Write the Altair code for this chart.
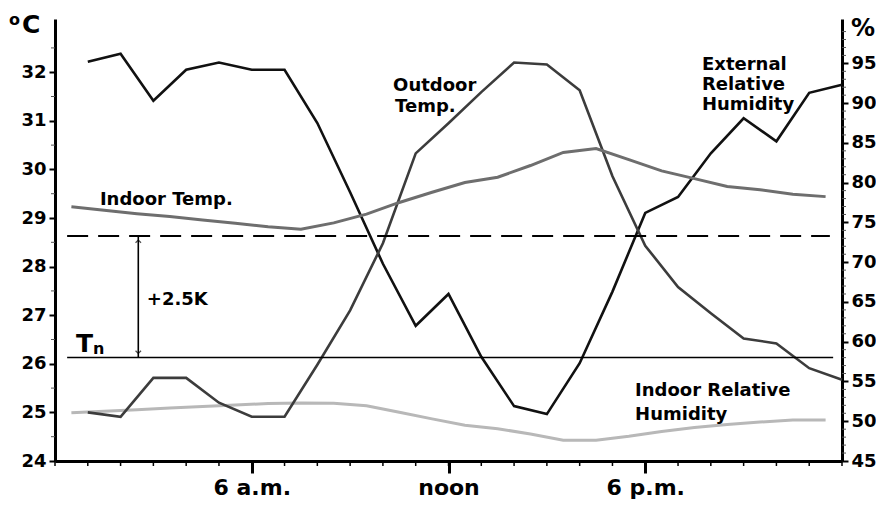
import altair as alt
import pandas as pd

# ---------------- data ----------------
hours_outdoor = list(range(1, 25))
outdoor_temp = [25.0, 24.91, 25.71, 25.71, 25.2, 24.91, 24.91, 25.98, 27.1, 28.48,
                30.33, 30.95, 31.59, 32.2, 32.16, 31.63, 29.86, 28.43, 27.58, 27.04,
                26.52, 26.42, 25.91, 25.67]
external_rh = [95.2, 96.2, 90.3, 94.2, 95.1, 94.2, 94.2, 87.5, 78.8, 69.8,
               62.0, 66.0, 58.1, 51.9, 50.9, 57.3, 66.3, 76.2, 78.2, 83.7,
               88.1, 85.2, 91.3, 92.3]

hours_indoor = [h + 0.5 for h in range(24)]
indoor_temp = [29.23, 29.16, 29.09, 29.03, 28.96, 28.89, 28.82, 28.77, 28.90, 29.08,
               29.32, 29.53, 29.73, 29.84, 30.08, 30.35, 30.43, 30.20, 29.97, 29.81,
               29.65, 29.58, 29.49, 29.44]
indoor_rh = [51.07, 51.27, 51.46, 51.65, 51.85, 52.04, 52.23, 52.3, 52.25, 51.95,
             51.13, 50.3, 49.5, 49.06, 48.4, 47.6, 47.6, 48.1, 48.7, 49.2,
             49.6, 49.9, 50.15, 50.15]

tn_value = 26.13
tn_plus = 28.63
ref_start = 0.37
dash_end = 23.63
tn_end = 23.73
arrow_hour = 2.54

x_tick_values = [6, 12, 18]
x_tick_labels = ["6 a.m.", "noon", "6 p.m."]
temp_ticks = list(range(24, 33))
temp_minor = [t + 0.5 for t in range(24, 33)]
rh_ticks = list(range(45, 100, 5))
rh_minor = [v for v in range(46, 100) if v % 5 != 0]
hour_minor = list(range(0, 25))

ann_text = ["Indoor Temp.", "Outdoor", "Temp.", "External", "Relative", "Humidity",
            "Indoor Relative", "Humidity", "+2.5K"]
ann_hour = [1.37, 10.31, 10.37, 19.73, 19.73, 19.73, 17.69, 17.69, 2.80]
ann_temp = [29.27, 31.61, 31.19, 32.05, 31.64, 31.23, 25.33, 24.85, 27.21]

# ---------------- frames ----------------
df_out = pd.DataFrame({"h": hours_outdoor, "t": outdoor_temp, "rh": external_rh})
df_in = pd.DataFrame({"h": hours_indoor, "t": indoor_temp, "rh": indoor_rh})
df_dash = pd.DataFrame({"h": [ref_start], "h2": [dash_end], "t": [tn_plus]})
df_tn = pd.DataFrame({"h": [ref_start], "h2": [tn_end], "t": [tn_value]})
df_arrow = pd.DataFrame({"h": [arrow_hour], "t": [tn_value], "t2": [tn_plus]})
df_ann = pd.DataFrame({"h": ann_hour, "t": ann_temp, "text": ann_text})
df_hminor = pd.DataFrame({"h": hour_minor})
df_tminor = pd.DataFrame({"v": temp_minor})
df_rminor = pd.DataFrame({"v": rh_minor})
one = pd.DataFrame({"a": [0]})

FONT = "DejaVu Sans"
W, H = 787, 442

xs = alt.Scale(domain=[0, 24], nice=False, zero=False)
ts = alt.Scale(domain=[24, 33.095], nice=False, zero=False)
hs = alt.Scale(domain=[45, 100.58], nice=False, zero=False)

label_expr = " : ".join(
    f"datum.value == {v} ? '{l}'" for v, l in zip(x_tick_values, x_tick_labels)
) + " : ''"

x_axis = alt.Axis(values=x_tick_values, labelExpr=label_expr, title=None, grid=False,
                  tickSize=12, tickWidth=3, tickColor="black", domainColor="black",
                  domainWidth=3, labelFont=FONT, labelFontSize=22, labelFontWeight="bold",
                  labelColor="black", labelPadding=4, labelFlush=False, orient="bottom")
left_axis = alt.Axis(values=temp_ticks, title=None, grid=False, orient="left",
                     tickSize=6, tickWidth=2, tickColor="black", domainColor="black",
                     domainWidth=3, labelFont=FONT, labelFontSize=18, labelFontWeight="bold",
                     labelColor="black", labelPadding=3)
right_axis = alt.Axis(values=rh_ticks, title=None, grid=False, orient="right",
                      tickSize=6, tickWidth=2, tickColor="black", domainColor="black",
                      domainWidth=3, labelFont=FONT, labelFontSize=18, labelFontWeight="bold",
                      labelColor="black", labelPadding=3)


def X(field="h"):
    return alt.X(f"{field}:Q", scale=xs, axis=x_axis)


def YT(field="t"):
    return alt.Y(f"{field}:Q", scale=ts, axis=left_axis)


def YH(field="rh"):
    return alt.Y(f"{field}:Q", scale=hs, axis=right_axis)


# ---------------- temperature (left axis) ----------------
outdoor_line = alt.Chart(df_out).mark_line(color="#3c3c3c", strokeWidth=2.6).encode(
    x=X(), y=YT())
indoor_line = alt.Chart(df_in).mark_line(color="#6e6e6e", strokeWidth=3).encode(
    x=X(), y=YT())
ref_dash = alt.Chart(df_dash).mark_rule(
    color="black", strokeWidth=2, strokeDash=[21, 10]).encode(
    x=X(), x2="h2:Q", y=YT())
ref_tn = alt.Chart(df_tn).mark_rule(color="black", strokeWidth=1.6).encode(
    x=X(), x2="h2:Q", y=YT())
arrow = alt.Chart(df_arrow).mark_rule(color="black", strokeWidth=1.6).encode(
    x=X(), y=YT(), y2="t2:Q")
arrow_top = alt.Chart(df_arrow).mark_point(
    shape="M-1,1L0,0L1,1", filled=False, color="black", strokeWidth=1.2, size=30,
    yOffset=4).encode(x=X(), y=YT("t2"))
arrow_bot = alt.Chart(df_arrow).mark_point(
    shape="M-1,-1L0,0L1,-1", filled=False, color="black", strokeWidth=1.2, size=30,
    yOffset=-4).encode(x=X(), y=YT())
annotations = alt.Chart(df_ann).mark_text(
    font=FONT, fontSize=18, fontWeight="bold", color="black", align="left",
    baseline="alphabetic").encode(x=X(), y=YT(), text="text:N")
tn_T = alt.Chart(one).mark_text(text="T", font=FONT, fontSize=25, fontWeight="bold",
                                color="black", align="left", baseline="alphabetic").encode(
    x=alt.value(21), y=alt.value(333))
tn_n = alt.Chart(one).mark_text(text="n", font=FONT, fontSize=16, fontWeight="bold",
                                color="black", align="left", baseline="alphabetic").encode(
    x=alt.value(38), y=alt.value(335))
deg_o = alt.Chart(one).mark_text(text="o", font=FONT, fontSize=16, fontWeight="bold",
                                 color="black", align="left", baseline="alphabetic").encode(
    x=alt.value(-46), y=alt.value(6))
deg_C = alt.Chart(one).mark_text(text="C", font=FONT, fontSize=25, fontWeight="bold",
                                 color="black", align="left", baseline="alphabetic").encode(
    x=alt.value(-33), y=alt.value(14))
pct = alt.Chart(one).mark_text(text="%", font=FONT, fontSize=24, fontWeight="bold",
                               color="black", align="left", baseline="alphabetic").encode(
    x=alt.value(796), y=alt.value(17))
x_minor = alt.Chart(df_hminor).mark_rule(color="black", strokeWidth=1.5).encode(
    x=X(), y=alt.value(H), y2=alt.value(H + 5))
t_minor = alt.Chart(df_tminor).mark_rule(color="#555555", strokeWidth=1).encode(
    y=YT("v"), x=alt.value(-4), x2=alt.value(0))

temp_layer = alt.layer(outdoor_line, indoor_line, ref_dash, ref_tn, arrow, arrow_top,
                       arrow_bot, annotations, tn_T, tn_n, deg_o, deg_C, pct,
                       x_minor, t_minor)

# ---------------- humidity (right axis) ----------------
indoor_rh_line = alt.Chart(df_in).mark_line(color="#b8b8b8", strokeWidth=3).encode(
    x=X(), y=YH())
ext_rh_line = alt.Chart(df_out).mark_line(color="#111111", strokeWidth=2.6).encode(
    x=X(), y=YH())
r_minor = alt.Chart(df_rminor).mark_rule(color="#555555", strokeWidth=1).encode(
    y=YH("v"), x=alt.value(W), x2=alt.value(W + 4))

rh_layer = alt.layer(indoor_rh_line, ext_rh_line, r_minor)

chart = alt.layer(rh_layer, temp_layer).resolve_scale(y="independent").properties(
    width=W, height=H,
    padding={"left": 47, "top": 11, "right": 34, "bottom": 39},
    autosize=alt.AutoSizeParams(type="none"),
    background="white",
).configure_view(strokeWidth=0)

chart.save("out.html", embed_options={"renderer": "svg", "actions": False})
